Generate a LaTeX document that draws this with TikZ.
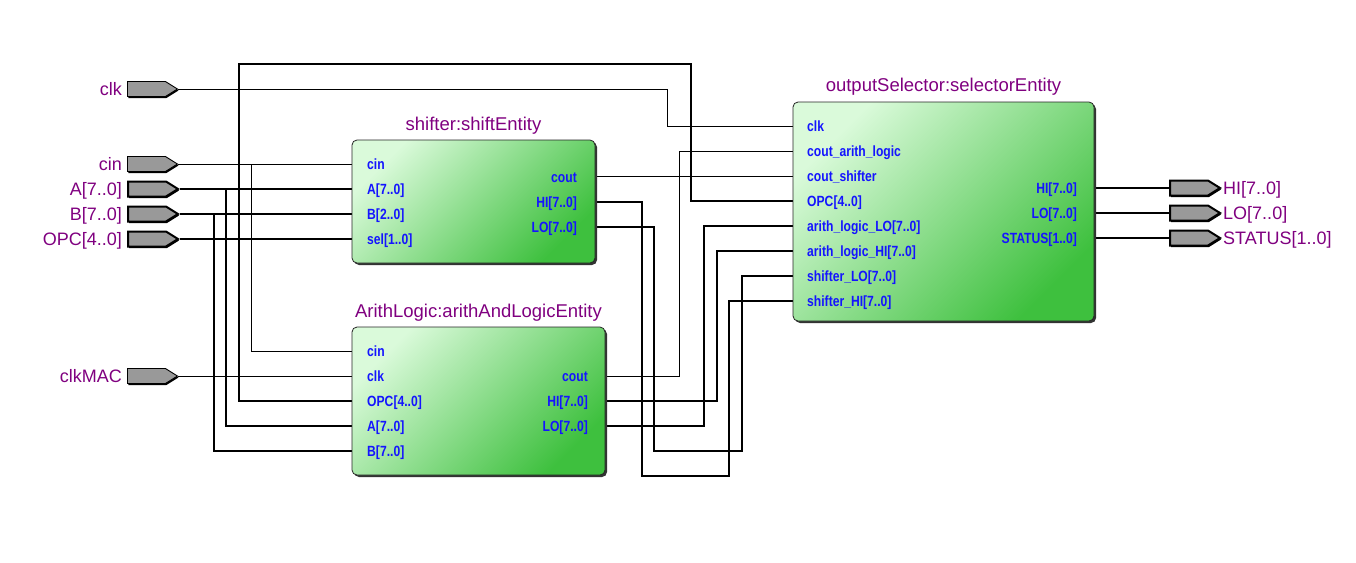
\documentclass[tikz,border=0pt]{standalone}
\usepackage{fontspec}
\setmainfont{Liberation Sans}
\newfontfamily\portfont{Liberation Sans}[FakeStretch=0.82]
\usetikzlibrary{shapes.symbols,shadows}
\definecolor{pinlbl}{RGB}{128,0,128}
\definecolor{portblue}{RGB}{20,20,255}
\definecolor{boxlight}{RGB}{218,250,218}
\definecolor{boxdark}{RGB}{62,192,62}
\definecolor{pingray}{RGB}{153,153,153}
\begin{document}
\begin{tikzpicture}[x=1pt,y=-1pt,
  entity/.style={draw=black!85, line width=0.8pt, rounded corners=5pt,
    top color=boxlight, bottom color=boxdark, shading angle=45, inner sep=0pt,
    drop shadow={shadow xshift=2pt, shadow yshift=-2pt, opacity=1, fill=black!80}},
  pinshape/.style={signal, signal to=east, signal pointer angle=64,
    minimum width=50pt, minimum height=15pt, inner sep=0pt, fill=pingray,
    draw=black, line width=0.9pt, anchor=west,
    drop shadow={shadow xshift=1pt, shadow yshift=-1.5pt, opacity=1, fill=black}},
  buspin/.style={pinshape, line width=2pt},
  pinlabel/.style={font=\fontsize{18}{20}\selectfont, text=pinlbl, inner sep=0pt,
    text height=13pt, text depth=0pt},
  titlelbl/.style={font=\fontsize{18.5}{20}\selectfont, text=pinlbl, inner sep=0pt},
  portlbl/.style={font=\portfont\bfseries\fontsize{14.8}{16}\selectfont, text=portblue,
    inner sep=0pt, text height=10.6pt, text depth=0pt},
  thinwire/.style={line width=1pt},
  buswire/.style={line width=2.8pt}]
\fill[white] (0,0) rectangle (1356,562);
\useasboundingbox (0,0) rectangle (1356,562);

% ---------- input pins ----------
\node[pinshape] (p-clk) at (127,89) {};
\node[pinlabel, anchor=east] (lp-clk) at (122,89) {clk};
\node[pinshape] (p-cin) at (127,164) {};
\node[pinlabel, anchor=east] (lp-cin) at (122,164) {cin};
\node[buspin] (p-A) at (127,189) {};
\node[pinlabel, anchor=east] (lp-A) at (122,189) {A[7..0]};
\node[buspin] (p-B) at (127,214) {};
\node[pinlabel, anchor=east] (lp-B) at (122,214) {B[7..0]};
\node[buspin] (p-OPC) at (127,239) {};
\node[pinlabel, anchor=east] (lp-OPC) at (122,239) {OPC[4..0]};
\node[pinshape] (p-clkMAC) at (127,376) {};
\node[pinlabel, anchor=east] (lp-clkMAC) at (122,376) {clkMAC};

% ---------- output pins ----------
\node[buspin] (o-HI) at (1169,188) {};
\node[pinlabel, anchor=west] (lo-HI) at (1223,188) {HI[7..0]};
\node[buspin] (o-LO) at (1169,213) {};
\node[pinlabel, anchor=west] (lo-LO) at (1223,213) {LO[7..0]};
\node[buspin] (o-ST) at (1169,238) {};
\node[pinlabel, anchor=west] (lo-ST) at (1223,238) {STATUS[1..0]};

% ---------- port coordinates ----------
\coordinate (sh-cin) at (352,164);
\coordinate (sh-A) at (352,189);
\coordinate (sh-B) at (352,214);
\coordinate (sh-sel) at (352,239);
\coordinate (sh-cout) at (595,176.5);
\coordinate (sh-HI) at (595,202);
\coordinate (sh-LO) at (595,227);
\coordinate (alu-cin) at (352,351);
\coordinate (alu-clk) at (352,376);
\coordinate (alu-OPC) at (352,401);
\coordinate (alu-A) at (352,426);
\coordinate (alu-B) at (352,451);
\coordinate (alu-cout) at (605,376);
\coordinate (alu-HI) at (605,401);
\coordinate (alu-LO) at (605,426);
\coordinate (sel-clk) at (793,126);
\coordinate (sel-coutal) at (793,151);
\coordinate (sel-coutsh) at (793,176.5);
\coordinate (sel-OPC) at (793,201);
\coordinate (sel-alLO) at (793,226);
\coordinate (sel-alHI) at (793,251);
\coordinate (sel-shLO) at (793,276);
\coordinate (sel-shHI) at (793,301);
\coordinate (sel-HI) at (1094,188);
\coordinate (sel-LO) at (1094,213);
\coordinate (sel-ST) at (1094,238);

% ---------- wires ----------
\draw[thinwire] (p-clk.east) -- (667,89) |- (sel-clk);
\draw[thinwire] (p-cin.east) -- (sh-cin);
\draw[thinwire] (251,164) |- (alu-cin);
\draw[buswire] (p-A.east) -- (sh-A);
\draw[buswire] (226,189) |- (alu-A);
\draw[buswire] (p-B.east) -- (sh-B);
\draw[buswire] (214,214) |- (alu-B);
\draw[buswire] (p-OPC.east) -- (sh-sel);
\draw[buswire] (alu-OPC) -| (239,64) -| (691,201) -- (sel-OPC);
\draw[thinwire] (p-clkMAC.east) -- (alu-clk);
\draw[thinwire] (sh-cout) -- (sel-coutsh);
\draw[buswire] (sh-HI) -| (642,476) -| (729,301) -- (sel-shHI);
\draw[buswire] (sh-LO) -| (654,451) -| (742,276) -- (sel-shLO);
\draw[thinwire] (alu-cout) -| (679,151) -- (sel-coutal);
\draw[buswire] (alu-HI) -| (717,251) -- (sel-alHI);
\draw[buswire] (alu-LO) -| (704,226) -- (sel-alLO);
\draw[buswire] (sel-HI) -- (o-HI.west);
\draw[buswire] (sel-LO) -- (o-LO.west);
\draw[buswire] (sel-ST) -- (o-ST.west);

% ---------- entities ----------
\node[entity, minimum width=243pt, minimum height=123pt] (sh) at (473.5,201.5) {};
\node[titlelbl] (t-sh) at (473.5,126) {shifter:shiftEntity};
\node[portlbl, anchor=west] (l-sh-cin) at (367,164) {cin};
\node[portlbl, anchor=west] (l-sh-A) at (367,189) {A[7..0]};
\node[portlbl, anchor=west] (l-sh-B) at (367,214) {B[2..0]};
\node[portlbl, anchor=west] (l-sh-sel) at (367,239) {sel[1..0]};
\node[portlbl, anchor=east] (l-sh-cout) at (577,177) {cout};
\node[portlbl, anchor=east] (l-sh-HI) at (577,202) {HI[7..0]};
\node[portlbl, anchor=east] (l-sh-LO) at (577,227) {LO[7..0]};

\node[entity, minimum width=253pt, minimum height=148pt] (alu) at (478.5,401) {};
\node[titlelbl] (t-alu) at (478.5,313) {ArithLogic:arithAndLogicEntity};
\node[portlbl, anchor=west] (l-alu-cin) at (367,351) {cin};
\node[portlbl, anchor=west] (l-alu-clk) at (367,376) {clk};
\node[portlbl, anchor=west] (l-alu-OPC) at (367,401) {OPC[4..0]};
\node[portlbl, anchor=west] (l-alu-A) at (367,426) {A[7..0]};
\node[portlbl, anchor=west] (l-alu-B) at (367,451) {B[7..0]};
\node[portlbl, anchor=east] (l-alu-cout) at (588,376) {cout};
\node[portlbl, anchor=east] (l-alu-HI) at (588,401) {HI[7..0]};
\node[portlbl, anchor=east] (l-alu-LO) at (588,426) {LO[7..0]};

\node[entity, minimum width=301pt, minimum height=219pt] (sel) at (943.5,211.5) {};
\node[titlelbl] (t-sel) at (943.5,87) {outputSelector:selectorEntity};
\node[portlbl, anchor=west] (l-sel-clk) at (807,126) {clk};
\node[portlbl, anchor=west] (l-sel-coutal) at (807,151) {cout\_arith\_logic};
\node[portlbl, anchor=west] (l-sel-coutsh) at (807,176) {cout\_shifter};
\node[portlbl, anchor=west] (l-sel-OPC) at (807,201) {OPC[4..0]};
\node[portlbl, anchor=west] (l-sel-alLO) at (807,226) {arith\_logic\_LO[7..0]};
\node[portlbl, anchor=west] (l-sel-alHI) at (807,251) {arith\_logic\_HI[7..0]};
\node[portlbl, anchor=west] (l-sel-shLO) at (807,276) {shifter\_LO[7..0]};
\node[portlbl, anchor=west] (l-sel-shHI) at (807,301) {shifter\_HI[7..0]};
\node[portlbl, anchor=east] (l-sel-HI) at (1077,188) {HI[7..0]};
\node[portlbl, anchor=east] (l-sel-LO) at (1077,213) {LO[7..0]};
\node[portlbl, anchor=east] (l-sel-ST) at (1077,238) {STATUS[1..0]};
\end{tikzpicture}
\end{document}
